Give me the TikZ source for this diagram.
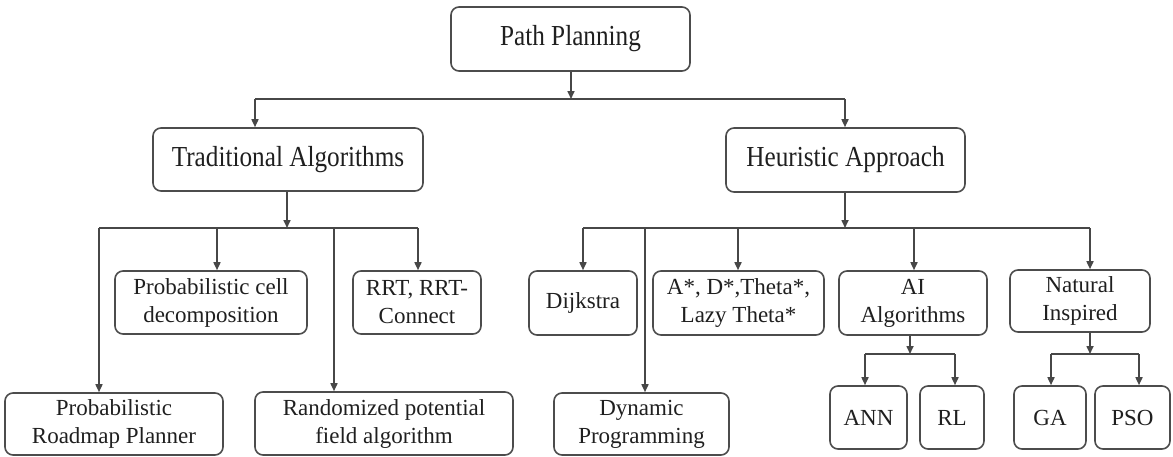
\documentclass[tikz,border=0pt]{standalone}
\usepackage{fontspec}
\setmainfont{Liberation Serif}
\newfontfamily\condfont{Liberation Serif}[FakeStretch=0.87]
\usetikzlibrary{arrows.meta}
\begin{document}
\begin{tikzpicture}[x=1pt,y=-1pt,
  box/.style={draw=black!70, line width=1.6pt, rounded corners=8pt, rectangle, inner sep=0pt, align=center, text=black!88},
  big/.style={font=\condfont\fontsize{29}{34}\selectfont},
  small/.style={font=\fontsize{23}{28}\selectfont},
  conn/.style={draw=black!72, line width=1.6pt},
  arr/.style={conn, -{Triangle[length=8pt,width=7pt]}}
]
\useasboundingbox (0,0) rectangle (1173,456);
% nodes
\node[box,big,minimum width=239pt,minimum height=64pt] (pp) at (570.5,39) {Path Planning};
\node[box,big,minimum width=270pt,minimum height=63pt] (trad) at (288,159.5) {Traditional Algorithms};
\node[box,big,minimum width=239pt,minimum height=64pt] (heur) at (845.5,160) {Heuristic Approach};
\node[box,small,minimum width=192pt,minimum height=63pt] (pcd) at (211,302.5) {Probabilistic cell\\decomposition};
\node[box,small,minimum width=128pt,minimum height=63pt] (rrt) at (417,302.5) {RRT, RRT-\\Connect};
\node[box,small,minimum width=218pt,minimum height=62pt] (prm) at (114,424) {Probabilistic\\Roadmap Planner};
\node[box,small,minimum width=258pt,minimum height=63pt] (rpf) at (384,423.5) {Randomized potential\\field algorithm};
\node[box,small,minimum width=108pt,minimum height=64pt] (dij) at (583,303) {Dijkstra};
\node[box,small,minimum width=171pt,minimum height=64pt] (astar) at (738.5,303) {A*, D*,Theta*,\\Lazy Theta*};
\node[box,small,minimum width=175pt,minimum height=62pt] (dp) at (641.5,424) {Dynamic\\Programming};
\node[box,small,minimum width=148pt,minimum height=64pt] (ai) at (913,303) {AI\\Algorithms};
\node[box,small,minimum width=140pt,minimum height=62pt] (nat) at (1080,301) {Natural\\Inspired};
\node[box,small,minimum width=77pt,minimum height=63pt] (ann) at (868.5,417.5) {ANN};
\node[box,small,minimum width=64pt,minimum height=63pt] (rl) at (952,417.5) {RL};
\node[box,small,minimum width=72pt,minimum height=63pt] (ga) at (1050,417.5) {GA};
\node[box,small,minimum width=75pt,minimum height=63pt] (pso) at (1132.5,417.5) {PSO};
% level 1
\coordinate (j0) at (571,99);
\draw[arr] (j0 |- pp.south) -- (j0);
\coordinate (jt) at (255,99);
\coordinate (jh) at (845,99);
\draw[conn] (jt) -- (jh);
\draw[arr] (jt) -- (jt |- trad.north);
\draw[arr] (jh) -- (jh |- heur.north);
% traditional
\coordinate (t0) at (287,228);
\draw[arr] (t0 |- trad.south) -- (t0);
\coordinate (t1) at (99,228);
\coordinate (t2) at (217,228);
\coordinate (t3) at (334,228);
\coordinate (t4) at (418,228);
\draw[conn] (t1) -- (t4);
\draw[arr] (t1) -- (t1 |- prm.north);
\draw[arr] (t2) -- (t2 |- pcd.north);
\draw[arr] (t3) -- (t3 |- rpf.north);
\draw[arr] (t4) -- (t4 |- rrt.north);
% heuristic
\coordinate (h0) at (845,228);
\draw[arr] (h0 |- heur.south) -- (h0);
\coordinate (h1) at (583,228);
\coordinate (h2) at (645,228);
\coordinate (h3) at (738,228);
\coordinate (h4) at (914,228);
\coordinate (h5) at (1090,228);
\draw[conn] (h1) -- (h5);
\draw[arr] (h1) -- (h1 |- dij.north);
\draw[arr] (h2) -- (h2 |- dp.north);
\draw[arr] (h3) -- (h3 |- astar.north);
\draw[arr] (h4) -- (h4 |- ai.north);
\draw[arr] (h5) -- (h5 |- nat.north);
% AI
\coordinate (a0) at (910,354);
\draw[arr] (a0 |- ai.south) -- (a0);
\coordinate (a1) at (865,354);
\coordinate (a2) at (955,354);
\draw[conn] (a1) -- (a2);
\draw[arr] (a1) -- (a1 |- ann.north);
\draw[arr] (a2) -- (a2 |- rl.north);
% Natural
\coordinate (n0) at (1090,354);
\draw[arr] (n0 |- nat.south) -- (n0);
\coordinate (n1) at (1051,354);
\coordinate (n2) at (1139,354);
\draw[conn] (n1) -- (n2);
\draw[arr] (n1) -- (n1 |- ga.north);
\draw[arr] (n2) -- (n2 |- pso.north);
\end{tikzpicture}
\end{document}
